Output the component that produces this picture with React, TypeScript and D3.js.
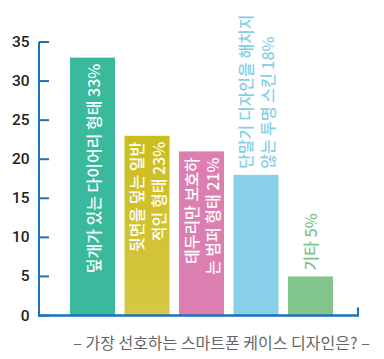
import React from "react";
import * as d3 from "d3";

const categories = ["a", "b", "c", "d", "e"];
const values = [33, 23, 21, 18, 5];
const labelLines = [
  ["덮개가 있는 다이어리 형태 33%"],
  ["뒷면을 덮는 일반", "적인 형태 23%"],
  ["테두리만 보호하", "는 범퍼 형태 21%"],
  ["단말기 디자인을 해치지", "않는 투명 스킨 18%"],
  ["기타 5%"],
];
const labelInside = [true, true, true, false, false];
const colors = ["#3ab99d", "url(#g2)", "#dd7eb1", "#89cfe7", "#82c68b"];
const textColors = ["#ffffff", "#ffffff", "#ffffff", "#86cde6", "#7ec589"];
const yTicks = [0, 5, 10, 15, 20, 25, 30, 35];
const caption = "– 가장 선호하는 스마트폰 케이스 디자인은? –";

export default function App() {
  const W = 384, H = 359;
  const y = d3.scaleLinear().domain([0, 35]).range([315.5, 42]);
  const x = d3.scaleBand<string>().domain(categories).range([70, 333]).paddingInner(0.174).paddingOuter(0);
  const bw = x.bandwidth();
  const axisColor = "#1a72bf";
  const font = "'Noto Sans CJK KR', 'Noto Sans', sans-serif";
  const lineGap = 21.5;
  return (
    <svg width={W} height={H} style={{ position: "absolute", left: 0, top: 0 }}>
      <defs>
        <linearGradient id="g2" x1="0" y1="0" x2="0" y2="1">
          <stop offset="0" stopColor="#ccbd1d" />
          <stop offset="1" stopColor="#d6c844" />
        </linearGradient>
      </defs>
      <rect width={W} height={H} fill="#fff" />
      {categories.map((c, i) => (
        <rect key={c} x={x(c)} y={y(values[i])} width={bw} height={y(0) - y(values[i])} fill={colors[i]} />
      ))}
      {categories.map((c, i) => {
        const lines = labelLines[i];
        const cx = (x(c) as number) + bw / 2;
        const n = lines.length;
        return lines.map((t, j) => {
          const lx = cx + (j - (n - 1) / 2) * lineGap;
          const ly = labelInside[i] ? y(values[i]) + 6 : y(values[i]) - 6;
          return (
            <text
              key={c + j}
              transform={`translate(${lx},${ly}) rotate(-90)`}
              textAnchor={labelInside[i] ? "end" : "start"}
              dominantBaseline="central"
              fontFamily={font}
              fontSize={16}
              fontWeight={500}
              fill={textColors[i]}
            >
              {t}
            </text>
          );
        });
      })}
      {/* y axis */}
      <line x1={39} x2={39} y1={y(35)} y2={y(0) + 1} stroke={axisColor} strokeWidth={2} />
      {yTicks.map((t) => (
        <g key={t}>
          <line x1={39} x2={49} y1={y(t)} y2={y(t)} stroke={axisColor} strokeWidth={2} />
          <text x={29.5} y={y(t)} textAnchor="end" dominantBaseline="central" fontFamily="Roboto, 'Liberation Sans', sans-serif" fontSize={15.5} fontWeight={500} fill="#231f20">
            {t}
          </text>
        </g>
      ))}
      {/* x axis */}
      <line x1={38} x2={359} y1={y(0)} y2={y(0)} stroke={axisColor} strokeWidth={2.5} />
      <line x1={358} x2={358} y1={307.5} y2={y(0)} stroke={axisColor} strokeWidth={2} />
      <text x={221.5} y={342} textAnchor="middle" dominantBaseline="central" fontFamily={font} fontSize={16} fill="#666666">
        {caption}
      </text>
    </svg>
  );
}
